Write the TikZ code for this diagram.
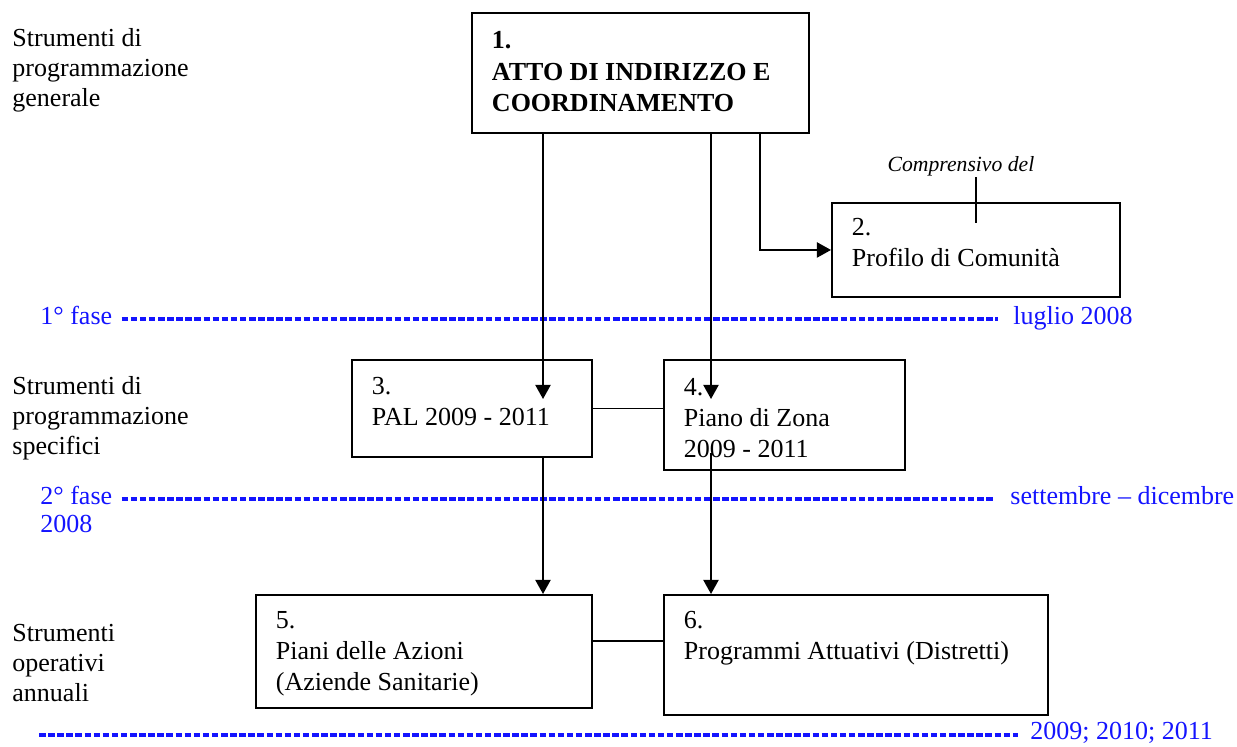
\documentclass[tikz,border=0pt]{standalone}
\usepackage{fontspec}
\setmainfont{Liberation Serif}
\usepackage{xcolor}
\usetikzlibrary{arrows.meta}
\usetikzlibrary{positioning}

\newlength{\unitpx}
\setlength{\unitpx}{0.4615pt}
\newcommand{\boxtext}[4]{\parbox[c][#2\unitpx][t]{#1\unitpx}{\leftskip=20\unitpx\rule{0pt}{#3\unitpx}#4}}
\newcommand{\sidetext}[1]{\parbox[t]{200\unitpx}{#1}}
\definecolor{faseblue}{RGB}{20,20,255}

\tikzset{
  stage/.style={draw, line width=0.9pt, anchor=north west, inner sep=0pt,
    font=\fontsize{12pt}{14.3pt}\selectfont},
  side/.style={anchor=base west, inner sep=0pt, font=\fontsize{12pt}{13.8pt}\selectfont},
  fase/.style={anchor=base west, inner sep=0pt, text=faseblue, font=\fontsize{12pt}{14pt}\selectfont},
  fasedash/.style={draw=faseblue, line width=1.5pt, dash pattern=on 3pt off 1.2pt},
  flow/.style={-{Triangle[length=6.5pt,width=7pt]}, line width=0.8pt},
  link/.style={line width=0.8pt},
}

\begin{document}
\begin{tikzpicture}[x=\unitpx, y=-\unitpx]
\useasboundingbox (0,0) rectangle (1237,747);

% livelli
\node [side] (gen) at (12,47) {\sidetext{Strumenti di\\programmazione\\generale}};
\node [side] (spec) at (12,395) {\sidetext{Strumenti di\\programmazione\\specifici}};
\node [side] (oper) at (12,642) {\sidetext{Strumenti\\operativi\\annuali}};

% riquadri
\node [stage] (atto) at (471,12) {\boxtext{337}{120}{36}{\bfseries\baselineskip=14.5pt 1.\\ATTO DI INDIRIZZO E\\COORDINAMENTO}};
\node [stage] (profilo) at (831,202) {\boxtext{288}{94}{33}{2.\\Profilo di Comunità}};
\node [stage] (pal) at (351,359) {\boxtext{240}{97}{35}{3.\\PAL 2009 - 2011}};
\node [stage] (zona) at (663,359) {\boxtext{241}{110}{36}{4.\\Piano di Zona\\2009 - 2011}};
\node [stage] (azioni) at (255,594) {\boxtext{336}{113}{34}{5.\\Piani delle Azioni\\(Aziende Sanitarie)}};
\node [stage] (programmi) at (663,594) {\boxtext{384}{120}{34}{6.\\Programmi Attuativi (Distretti)}};

\node [anchor=base, inner sep=0pt, font=\fontsize{10pt}{12pt}\selectfont\itshape] (comp) at (961,172) {Comprensivo del};

% fasi
\node [fase] (f1) at (40,325) {1° fase};
\node [fase] (d1) at (1013,325) {luglio 2008};
\node [fase] (f2) at (40,505) {2° fase};
\node [fase] (d2) at (1010,505) {settembre – dicembre};
\node [fase] (f2b) at (40,533) {2008};
\node [fase] (d3) at (1030,740) {2009; 2010; 2011};
\coordinate (start3) at (39,735);

\draw [fasedash] ([xshift=9\unitpx,yshift=-3\unitpx]f1.east) -- ([xshift=-15\unitpx,yshift=-3\unitpx]d1.west |- f1.east);
\draw [fasedash] ([xshift=9\unitpx,yshift=-3\unitpx]f2.east) -- ([xshift=-15\unitpx,yshift=-3\unitpx]d2.west |- f2.east);
\draw [fasedash] (start3) -- ([xshift=-12\unitpx]d3.west |- start3);

% frecce
\coordinate (pal-in) at (543,399);
\coordinate (zona-in) at (711,399);
\coordinate (zona-out) at (711,453);
\coordinate (bend) at (760,248);
\coordinate (tick) at (976,223);
\coordinate (link56) at (0,641);

\draw [flow] (atto.south -| pal-in) -- (pal-in);
\draw [flow] (atto.south -| zona-in) -- (zona-in);
\draw [flow] (atto.south -| bend) |- (profilo.west);
\draw [link] (tick |- comp.south) -- (tick);
\draw [flow] (pal.south -| pal-in) -- (azioni.north -| pal-in);
\draw [flow] (zona-out) -- (programmi.north -| zona-out);
\draw [link] (pal.east) -- (pal.east -| zona.west);
\draw [link] (azioni.east |- link56) -- (programmi.west |- link56);
\end{tikzpicture}
\end{document}
